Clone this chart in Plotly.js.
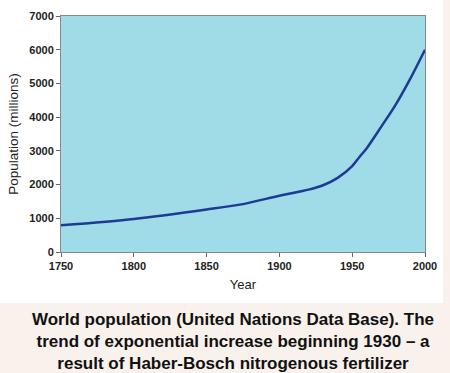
<!DOCTYPE html>
<html><head><meta charset="utf-8">
<script src="https://cdn.plot.ly/plotly-3.0.1.min.js"></script>
<style>html,body{margin:0;padding:0;background:#f8f1ec;}#chart{width:450px;height:373px;}</style>
</head><body><div id="chart"></div>
<script>
var years = [1750, 1800, 1850, 1875, 1900, 1920, 1930, 1940, 1950, 1955, 1960, 1970, 1980, 1990, 2000];
var population = [790, 980, 1260, 1420, 1670, 1850, 1980, 2200, 2550, 2820, 3080, 3720, 4380, 5150, 6000];
var xTicks = [1750, 1800, 1850, 1900, 1950, 2000];
var yTicks = [0, 1000, 2000, 3000, 4000, 5000, 6000, 7000];
var caption = "World population (United Nations Data Base). The<br>trend of exponential increase beginning 1930 – a<br>result of Haber-Bosch nitrogenous fertilizer";

var trace = {
  x: years, y: population, type: 'scatter', mode: 'lines',
  line: {color: '#1d3a94', width: 2.5, shape: 'spline', smoothing: 0.8},
  hoverinfo: 'skip'
};
var fam = 'Liberation Sans, Arial, sans-serif';
var layout = {
  width: 450, height: 373,
  margin: {l: 61, r: 25, t: 16, b: 121},
  paper_bgcolor: '#f8f1ec',
  plot_bgcolor: '#a0dbe8',
  showlegend: false,
  shapes: [
    {type: 'rect', xref: 'paper', yref: 'paper', layer: 'below',
     x0: -61/364, x1: 1 + 18/364, y0: -(303-252)/236, y1: 1 + 16/236,
     fillcolor: '#ffffff', line: {width: 0}},
    {type: 'rect', xref: 'paper', yref: 'paper', layer: 'below',
     x0: 0, x1: 1, y0: 0, y1: 1, fillcolor: '#a0dbe8', line: {width: 0}}
  ],
  xaxis: {
    range: [1750, 2000], tickvals: xTicks, ticktext: xTicks.map(String),
    showgrid: false, zeroline: false, showline: true, linecolor: '#888', linewidth: 1,
    mirror: true, ticks: 'outside', ticklen: 4, tickcolor: '#666',
    tickfont: {family: fam, size: 11, color: '#222', weight: 'bold'},
    title: {text: 'Year', font: {family: fam, size: 13, color: '#222'}, standoff: 8}
  },
  yaxis: {
    range: [0, 7000], tickvals: yTicks, ticktext: yTicks.map(String),
    showgrid: false, zeroline: false, showline: true, linecolor: '#888', linewidth: 1,
    mirror: true, ticks: 'outside', ticklen: 4, tickcolor: '#666',
    tickfont: {family: fam, size: 11, color: '#222', weight: 'bold'},
    title: {text: 'Population (millions)', font: {family: fam, size: 13.5, color: '#222'}, standoff: 7}
  },
  annotations: [{
    xref: 'paper', yref: 'paper', x: (233-61)/364, y: -(342-252)/236,
    xanchor: 'center', yanchor: 'middle', showarrow: false, align: 'center',
    text: '<b>' + caption + '</b>',
    font: {family: fam, size: 17, color: '#111'}
  }]
};
Plotly.newPlot('chart', [trace], layout, {displayModeBar: false, staticPlot: true});
</script></body></html>
